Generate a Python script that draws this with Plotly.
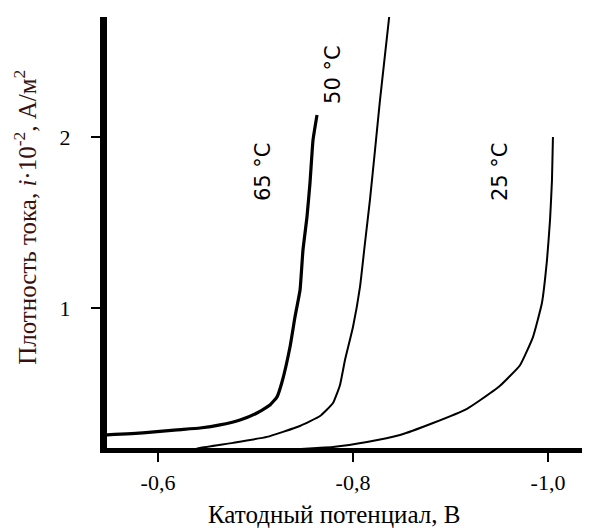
import plotly.graph_objects as go

# Catodic potential (V) and current density (i*10^-2, A/m^2)
x_65 = [-0.5436, -0.5846, -0.6195, -0.6431, -0.6636, -0.6841, -0.7015, -0.7149, -0.7221,
        -0.7272, -0.7354, -0.7405, -0.7457, -0.7487, -0.7528, -0.7559, -0.7590, -0.7631]
y_65 = [0.257, 0.269, 0.287, 0.298, 0.316, 0.345, 0.386, 0.433, 0.480,
        0.567, 0.772, 0.947, 1.105, 1.339, 1.532, 1.731, 1.982, 2.129]

x_50 = [-0.6277, -0.6431, -0.6769, -0.7118, -0.7456, -0.7662, -0.7795, -0.7867, -0.7918,
        -0.8000, -0.8072, -0.8123, -0.8174, -0.8226, -0.8277, -0.8379]
y_50 = [0.158, 0.181, 0.211, 0.246, 0.310, 0.368, 0.444, 0.550, 0.696,
        0.889, 1.123, 1.380, 1.632, 1.924, 2.216, 2.743]

x_25 = [-0.7149, -0.7631, -0.7795, -0.8144, -0.8482, -0.8821, -0.9169, -0.9303, -0.9508,
        -0.9713, -0.9846, -0.9938, -0.9990, -1.0021, -1.0041, -1.0051]
y_25 = [0.164, 0.181, 0.187, 0.216, 0.257, 0.327, 0.410, 0.460, 0.545,
        0.665, 0.830, 1.029, 1.281, 1.515, 1.749, 2.000]

x_ticks = [-0.6, -0.8, -1.0]
x_tick_labels = ["-0,6", "-0,8", "-1,0"]
y_ticks = [1, 2]
y_tick_labels = ["1", "2"]

labels = ["65 °C", "50 °C", "25 °C"]
label_x = [-0.7077, -0.7795, -0.9508]
label_y = [1.795, 2.363, 1.795]

x_title = "Катодный потенциал, В"
y_title = "Плотность тока, <i>i</i>·10<sup>-2</sup>, А/м<sup>2</sup>"

fig = go.Figure()
fig.add_trace(go.Scatter(x=x_65, y=y_65, mode="lines",
                         line=dict(color="black", width=3.2, shape="spline", smoothing=0.4)))
fig.add_trace(go.Scatter(x=x_50, y=y_50, mode="lines",
                         line=dict(color="black", width=2, shape="spline", smoothing=0.4)))
fig.add_trace(go.Scatter(x=x_25, y=y_25, mode="lines",
                         line=dict(color="black", width=2, shape="spline", smoothing=0.4)))

for t, ax_, ay_ in zip(labels, label_x, label_y):
    fig.add_annotation(x=ax_, y=ay_, text=t, showarrow=False, textangle=-90,
                       font=dict(family="DejaVu Sans", size=21, color="black"))

# axis titles as annotations for exact placement
fig.add_annotation(xref="paper", yref="paper", x=0.47, y=0, yshift=-66,
                   xanchor="center", yanchor="middle", showarrow=False, text=x_title,
                   font=dict(family="Liberation Serif", size=25, color="black"))
fig.add_annotation(xref="paper", yref="paper", x=0, y=0.534, xshift=-82,
                   xanchor="center", yanchor="middle", showarrow=False, text=y_title,
                   textangle=-90,
                   font=dict(family="Liberation Serif", size=25, color="#3a1010"))

# page body has an 8px margin: the figure is sized to fit the 590x530 window
fig.update_layout(
    width=582, height=522,
    margin=dict(l=99, r=0, t=9, b=82),
    paper_bgcolor="white", plot_bgcolor="white",
    showlegend=False,
    xaxis=dict(range=[-0.5477, -1.0431], showgrid=False, zeroline=False,
               showline=True, linecolor="black", linewidth=5,
               ticks="outside", ticklen=9, tickwidth=2, tickcolor="black",
               tickvals=x_ticks, ticktext=x_tick_labels, ticklabelstandoff=2,
               tickfont=dict(family="Liberation Serif", size=22, color="black")),
    yaxis=dict(range=[0.181, 2.702], showgrid=False, zeroline=False,
               showline=True, linecolor="black", linewidth=7,
               ticks="outside", ticklen=9, tickwidth=1.5, tickcolor="black",
               tickvals=y_ticks, ticktext=y_tick_labels, ticklabelstandoff=16,
               tickfont=dict(family="Liberation Serif", size=22, color="black")),
)

fig.write_html("out.html")
